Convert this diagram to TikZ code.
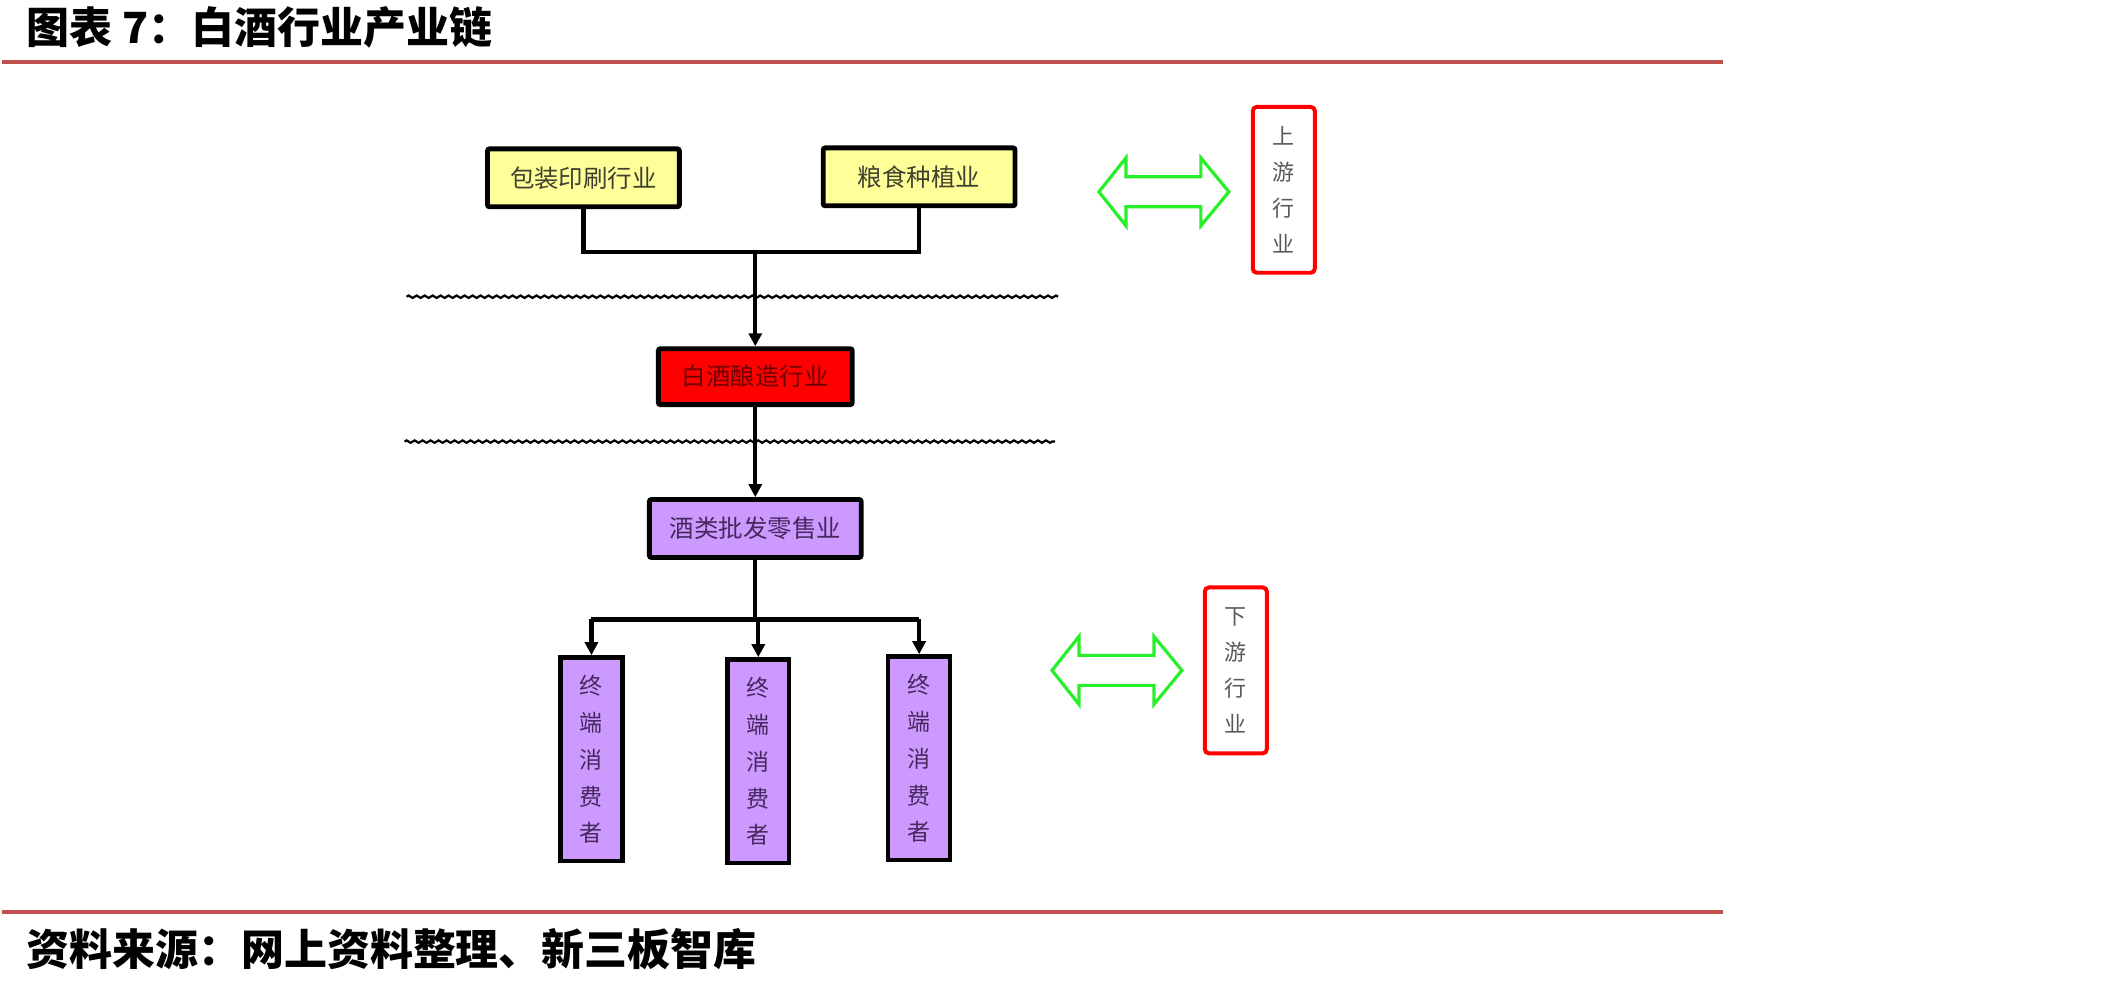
\documentclass[tikz,border=0pt]{standalone}
\usepackage{fontspec}
\setmainfont{Noto Sans CJK SC}
\usetikzlibrary{arrows.meta,decorations.pathmorphing}
\definecolor{rulered}{RGB}{192,80,77}
\definecolor{boxyellow}{RGB}{255,255,153}
\definecolor{boxpurple}{RGB}{204,153,255}
\definecolor{arrowgreen}{RGB}{40,240,40}
\definecolor{packtext}{RGB}{64,64,48}
\definecolor{brewtext}{RGB}{110,0,0}
\definecolor{saletext}{RGB}{70,40,95}
\definecolor{stagetext}{RGB}{90,90,90}
\begin{document}
\begin{tikzpicture}[x=0.5pt,y=-0.5pt]
\tikzstyle{every node}+=[inner sep=0pt]
\tikzstyle{industry}=[draw=black,line width=2.4pt,rounded corners=1pt,minimum height=29pt,font=\fontsize{12.25}{14}\selectfont]
\tikzstyle{consumer}=[draw=black,line width=2.2pt,fill=boxpurple,text=saletext,minimum width=31pt,minimum height=102pt,align=center,font=\fontsize{11.5}{18.5}\selectfont]
\tikzstyle{stage}=[draw=red,line width=2pt,rounded corners=2pt,text=stagetext,minimum width=31pt,minimum height=83pt,align=center,font=\fontsize{11}{18}\selectfont]
\tikzstyle{link}=[black,line width=2.2pt]
\tikzstyle{arr}=[black,line width=2.2pt,-{Triangle[length=6.5pt,width=6.5pt]}]
\tikzstyle{rough}=[black,line width=1.1pt,decorate,decoration={zigzag,segment length=4pt,amplitude=0.6pt}]
\tikzstyle{hollow}=[arrowgreen,line width=1.6pt,line join=miter]
\fill [white] (0,0) rectangle (2105,981);
\node [anchor=west,font=\fontsize{21.5}{24}\selectfont\bfseries] (title) at (24,27) {图表 7：白酒行业产业链};
\draw [rulered,line width=2pt] (0,62) -- (1723,62);
\draw [rulered,line width=2pt] (0,913) -- (1723,913);
\node [anchor=west,font=\fontsize{21.5}{24}\selectfont\bfseries] (source) at (24,950) {资料来源：网上资料整理、新三板智库};
\node [industry,fill=boxyellow,text=packtext,minimum width=96pt] (pack) at (582,178) {包装印刷行业};
\node [industry,fill=boxyellow,text=packtext,minimum width=96pt] (grain) at (918,177) {粮食种植业};
\node [industry,fill=red,text=brewtext,minimum width=97pt,minimum height=28pt] (brew) at (754,377) {白酒酿造行业};
\node [industry,fill=boxpurple,text=saletext,minimum width=106pt] (sale) at (754,529) {酒类批发零售业};
\node [consumer] (user1) at (590,760) {终\\端\\消\\费\\者};
\node [consumer] (user2) at (757,762) {终\\端\\消\\费\\者};
\node [consumer] (user3) at (918,759) {终\\端\\消\\费\\者};
\node [stage] (up) at (1283,190) {上\\游\\行\\业};
\node [stage] (down) at (1235,671) {下\\游\\行\\业};
\coordinate (join) at (754,252);
\coordinate (bus) at (754,620);
\draw [link] (pack.south) |- (join) -| (grain.south);
\draw [arr] (join) -- (brew.north);
\draw [arr] (brew.south) -- (sale.north);
\draw [link] (sale.south) -- (bus);
\draw [link] (user1.north |- bus) -- (user3.north |- bus);
\draw [arr] (user1.north |- bus) -- (user1.north);
\draw [arr] (user2.north |- bus) -- (user2.north);
\draw [arr] (user3.north |- bus) -- (user3.north);
\draw [rough] (405,297) -- (1057,297);
\draw [rough] (403,442) -- (1054,442);
\draw [hollow,shift={(1163,192)}] (-65,0) -- (-38,-34) -- (-38,-15) -- (37,-15) -- (37,-34) -- (65,0) -- (37,34) -- (37,15) -- (-38,15) -- (-38,34) -- cycle;
\draw [hollow,shift={(1116,671)}] (-65,0) -- (-38,-34) -- (-38,-15) -- (37,-15) -- (37,-34) -- (65,0) -- (37,34) -- (37,15) -- (-38,15) -- (-38,34) -- cycle;
\end{tikzpicture}
\end{document}
